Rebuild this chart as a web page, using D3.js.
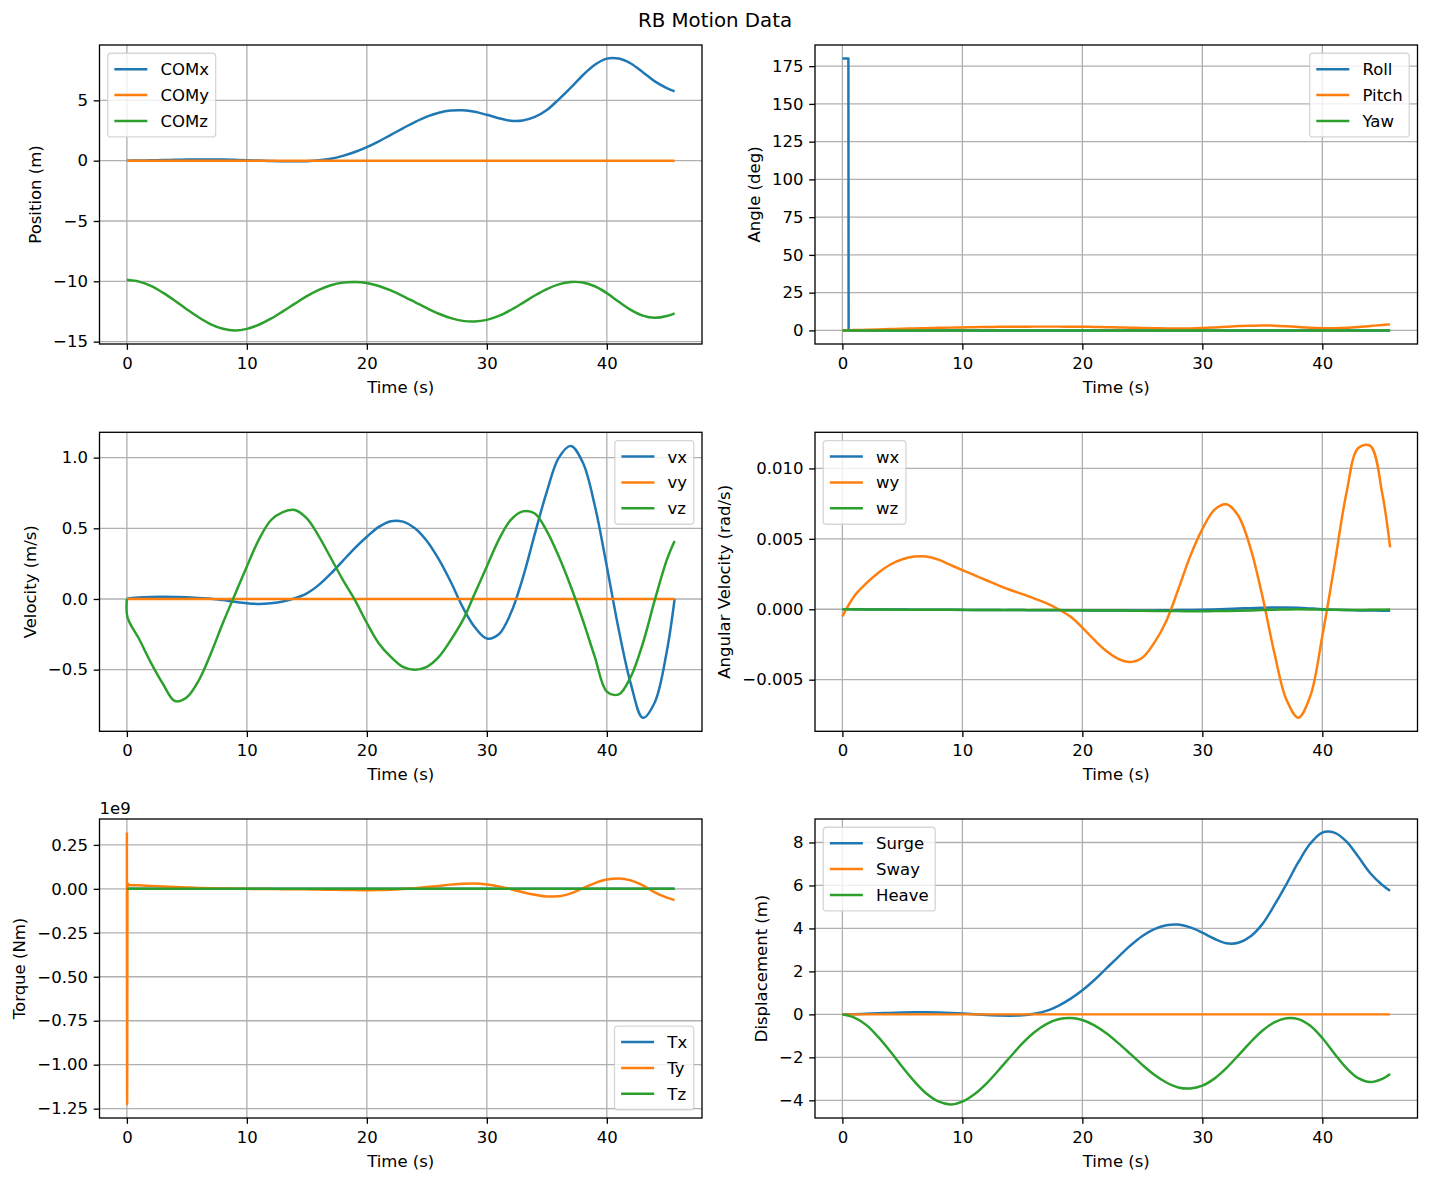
<!DOCTYPE html>
<html>
<head>
<meta charset="utf-8">
<title>RB Motion Data</title>
<script src="https://cdn.jsdelivr.net/npm/d3@7"></script>
<style>
  body { margin: 0; background: #fff; }
  text { font-family: "DejaVu Sans", sans-serif; fill: #000; }
</style>
</head>
<body>
<div id="chart"></div>
<script>
// ---- data ----
// main time samples, seconds
const time = [0,1,2,3,4,5,6,7,8,9,10,11,12,13,14,15,16,17,18,19,20,21,22,23,24,25,26,27,28,29,30,31,32,33,34,35,36,37,38,39,40,41,42,43,44,45,45.65];
// series that stay flat at zero
const flatTime = [0, 45.65];
// extra samples around the start-up spikes
const velTime = [0,0.05,1,2,3,4,5,6,7,8,9,10,11,12,13,14,15,16,17,18,19,20,21,22,23,24,25,26,27,28,29,30,31,32,33,34,35,36,37,38,39,40,41,42,43,44,45,45.65];
const torqueTime = [0,0.02,0.05,0.2,1,2,3,4,5,6,7,8,9,10,11,12,13,14,15,16,17,18,19,20,21,22,23,24,25,26,27,28,29,30,31,32,33,34,35,36,37,38,39,40,41,42,43,44,45,45.65];
const rollTime = [0, 0.5, 0.52, 45.65];

// Position (m)
const comX = [0.00,0.01,0.03,0.05,0.07,0.09,0.10,0.10,0.09,0.07,0.04,0.01,-0.03,-0.05,-0.06,-0.04,0.03,0.16,0.40,0.72,1.12,1.60,2.14,2.68,3.20,3.65,3.97,4.15,4.18,4.05,3.80,3.52,3.31,3.33,3.62,4.20,5.08,6.05,7.08,7.95,8.46,8.46,8.05,7.33,6.57,6.02,5.75];
const comY = [0, 0];
const comZ = [-9.88,-10.03,-10.38,-10.94,-11.61,-12.33,-13.00,-13.56,-13.93,-14.07,-13.94,-13.60,-13.10,-12.49,-11.85,-11.23,-10.71,-10.33,-10.11,-10.05,-10.14,-10.39,-10.76,-11.22,-11.72,-12.23,-12.69,-13.05,-13.28,-13.33,-13.20,-12.87,-12.38,-11.79,-11.18,-10.64,-10.25,-10.06,-10.10,-10.41,-10.98,-11.70,-12.37,-12.85,-13.03,-12.88,-12.65];

// Angle (deg)
const roll = [180, 180, 0, 0];
const pitch = [0,0.2,0.4,0.65,0.9,1.1,1.3,1.5,1.7,1.85,2.0,2.12,2.25,2.35,2.42,2.48,2.5,2.5,2.5,2.47,2.42,2.3,2.15,1.97,1.8,1.62,1.45,1.3,1.2,1.28,1.55,1.95,2.4,2.85,3.15,3.3,3.15,2.75,2.25,1.8,1.5,1.45,1.7,2.25,2.95,3.6,4.0];
const yaw = [0, 0];

// Velocity (m/s)
const vx = [0,0.001,0.01,0.014,0.015,0.014,0.012,0.007,0.002,-0.008,-0.02,-0.03,-0.035,-0.03,-0.018,0.005,0.04,0.1,0.18,0.27,0.36,0.44,0.51,0.55,0.547,0.50,0.41,0.28,0.12,-0.06,-0.2,-0.28,-0.25,-0.1,0.15,0.46,0.76,1.0,1.083,0.965,0.66,0.23,-0.22,-0.6,-0.84,-0.73,-0.37,0];
const vy = [0, 0];
const vz = [0,-0.13,-0.28,-0.45,-0.6,-0.722,-0.695,-0.575,-0.386,-0.17,0.03,0.23,0.42,0.557,0.615,0.63,0.57,0.443,0.29,0.135,-0.007,-0.17,-0.315,-0.41,-0.48,-0.5,-0.48,-0.41,-0.29,-0.15,0.04,0.23,0.42,0.56,0.62,0.605,0.48,0.3,0.088,-0.15,-0.41,-0.655,-0.675,-0.55,-0.315,-0.007,0.277,0.41];

// Angular velocity (rad/s)
const wx = [0,0,-0.00001,-0.00001,-0.00002,-0.00002,-0.00003,-0.00003,-0.00004,-0.00004,-0.00005,-0.00005,-0.00005,-0.00006,-0.00006,-0.00006,-0.00007,-0.00007,-0.00007,-0.00007,-0.00008,-0.00008,-0.00008,-0.00008,-0.00008,-0.00008,-0.00008,-0.00007,-0.00006,-0.00005,-0.00003,-0.00001,0.00002,0.00005,0.00008,0.00011,0.00013,0.00013,0.00011,0.00006,0.00001,-0.00003,-0.00006,-0.00008,-0.00009,-0.0001,-0.0001];
const wy = [-0.0005,0.00095,0.00185,0.0026,0.00318,0.00355,0.00374,0.00375,0.00352,0.00315,0.00278,0.00242,0.00206,0.0017,0.00137,0.00107,0.00076,0.00043,0.0,-0.00052,-0.0013,-0.00218,-0.00296,-0.00352,-0.00374,-0.00344,-0.00237,-0.00083,0.00142,0.00379,0.00569,0.00706,0.00745,0.00664,0.00438,0.00095,-0.00308,-0.0064,-0.0077,-0.00616,-0.0019,0.00308,0.0082,0.01145,0.0116,0.0082,0.0044];
const wz = [0,-0.00001,-0.00001,-0.00002,-0.00002,-0.00003,-0.00003,-0.00003,-0.00004,-0.00004,-0.00004,-0.00005,-0.00005,-0.00005,-0.00005,-0.00006,-0.00006,-0.00006,-0.00006,-0.00007,-0.00007,-0.00008,-0.00008,-0.00009,-0.0001,-0.00011,-0.00012,-0.00013,-0.00013,-0.00014,-0.00014,-0.00013,-0.00012,-0.0001,-0.00008,-0.00005,-0.00003,-0.00001,0,-0.00001,-0.00003,-0.00004,-0.00005,-0.00005,-0.00004,-0.00003,-0.00002];

// Torque, in units of 1e9 Nm
const torqueX = [0, 0];
const torqueY = [0.32,-1.226,0.03,0.022,0.02,0.017,0.014,0.011,0.008,0.005,0.003,0.002,0.001,0,-0.001,-0.001,-0.002,-0.002,-0.003,-0.004,-0.005,-0.006,-0.007,-0.008,-0.007,-0.005,-0.001,0.004,0.01,0.017,0.024,0.029,0.03,0.025,0.014,-0.002,-0.019,-0.033,-0.043,-0.042,-0.026,0.004,0.033,0.053,0.059,0.048,0.02,-0.02,-0.05,-0.064];
const torqueZ = [0, 0];

// Displacement (m)
const surge = [0.00,0.01,0.03,0.05,0.07,0.09,0.10,0.10,0.09,0.07,0.04,0.01,-0.03,-0.05,-0.06,-0.04,0.03,0.16,0.40,0.72,1.12,1.60,2.14,2.68,3.20,3.65,3.97,4.15,4.18,4.05,3.80,3.52,3.31,3.33,3.62,4.20,5.08,6.05,7.08,7.95,8.46,8.46,8.05,7.33,6.57,6.02,5.75];
const sway = [0, 0];
const heave = [0,-0.15,-0.50,-1.06,-1.73,-2.45,-3.12,-3.68,-4.05,-4.19,-4.06,-3.72,-3.22,-2.61,-1.97,-1.35,-0.83,-0.45,-0.23,-0.17,-0.26,-0.51,-0.88,-1.34,-1.84,-2.35,-2.81,-3.17,-3.40,-3.45,-3.32,-2.99,-2.50,-1.91,-1.30,-0.76,-0.37,-0.18,-0.22,-0.53,-1.10,-1.82,-2.49,-2.97,-3.15,-3.00,-2.77];

// tick values
const timeTicks = [0, 10, 20, 30, 40];
const positionTicks = [-15, -10, -5, 0, 5];
const angleTicks = [0, 25, 50, 75, 100, 125, 150, 175];
const velocityTicks = [-0.5, 0, 0.5, 1.0];
const angVelTicks = [-0.005, 0, 0.005, 0.010];
const torqueTicks = [-1.25, -1.0, -0.75, -0.5, -0.25, 0, 0.25];
const displacementTicks = [-4, -2, 0, 2, 4, 6, 8];

// ---- layout ----
const width = 1429, height = 1184;
const colLeft = [99.5, 815];
const rowTop = [45, 432.3, 819];
const axW = 602.5, axH = 299;
const fontSize = 16.5;
const lineW = 2.48, thinW = 1.32;
const colors = ["#1f77b4", "#ff7f0e", "#2ca02c"];

const panels = [
  { col: 0, row: 0, ylabel: "Position (m)", legend: "upper left", ticks: positionTicks, fmt: d3.format("d"),
    series: [{ name: "COMx", t: time, v: comX }, { name: "COMy", t: flatTime, v: comY }, { name: "COMz", t: time, v: comZ }] },
  { col: 1, row: 0, ylabel: "Angle (deg)", legend: "upper right", ticks: angleTicks, fmt: d3.format("d"),
    series: [{ name: "Roll", t: rollTime, v: roll, curve: d3.curveLinear }, { name: "Pitch", t: time, v: pitch }, { name: "Yaw", t: flatTime, v: yaw }] },
  { col: 0, row: 1, ylabel: "Velocity (m/s)", legend: "upper right", ticks: velocityTicks, fmt: d3.format(".1f"),
    series: [{ name: "vx", t: velTime, v: vx }, { name: "vy", t: flatTime, v: vy }, { name: "vz", t: velTime, v: vz }] },
  { col: 1, row: 1, ylabel: "Angular Velocity (rad/s)", legend: "upper left", ticks: angVelTicks, fmt: d3.format(".3f"),
    series: [{ name: "wx", t: time, v: wx }, { name: "wy", t: time, v: wy }, { name: "wz", t: time, v: wz }] },
  { col: 0, row: 2, ylabel: "Torque (Nm)", legend: "lower right", ticks: torqueTicks, fmt: d3.format(".2f"), offset: "1e9",
    series: [{ name: "Tx", t: flatTime, v: torqueX }, { name: "Ty", t: torqueTime, v: torqueY, curve: d3.curveMonotoneX }, { name: "Tz", t: flatTime, v: torqueZ }] },
  { col: 1, row: 2, ylabel: "Displacement (m)", legend: "upper left", ticks: displacementTicks, fmt: d3.format("d"),
    series: [{ name: "Surge", t: time, v: surge }, { name: "Sway", t: flatTime, v: sway }, { name: "Heave", t: time, v: heave }] }
];

const svg = d3.select("#chart")
  .append("svg")
  .attr("width", width)
  .attr("height", height)
  .attr("viewBox", [0, 0, width, height]);

svg.append("rect").attr("width", width).attr("height", height).attr("fill", "#fff");

svg.append("text")
  .attr("x", 715)
  .attr("y", 26.7)
  .attr("text-anchor", "middle")
  .attr("font-size", 19.8)
  .text("RB Motion Data");

// matplotlib-style 5% margins around the data
function padded(values) {
  const [lo, hi] = d3.extent(values);
  const pad = (hi - lo) * 0.05;
  return [lo - pad, hi + pad];
}

panels.forEach((p, i) => {
  const x0 = colLeft[p.col];
  const y0 = rowTop[p.row];

  const x = d3.scaleLinear()
    .domain(padded(p.series.flatMap(s => s.t)))
    .range([x0, x0 + axW]);
  const y = d3.scaleLinear()
    .domain(padded(p.series.flatMap(s => s.v)))
    .range([y0 + axH, y0]);

  const g = svg.append("g");

  // grid
  g.append("g").selectAll("line").data(timeTicks).join("line")
    .attr("x1", d => x(d)).attr("x2", d => x(d))
    .attr("y1", y0).attr("y2", y0 + axH)
    .attr("stroke", "#b0b0b0").attr("stroke-width", thinW);
  g.append("g").selectAll("line").data(p.ticks).join("line")
    .attr("x1", x0).attr("x2", x0 + axW)
    .attr("y1", d => y(d)).attr("y2", d => y(d))
    .attr("stroke", "#b0b0b0").attr("stroke-width", thinW);

  // lines
  const clipId = "clip" + i;
  svg.append("clipPath").attr("id", clipId)
    .append("rect").attr("x", x0).attr("y", y0).attr("width", axW).attr("height", axH);

  const lines = g.append("g").attr("clip-path", `url(#${clipId})`);
  p.series.forEach((s, j) => {
    const line = d3.line()
      .x(d => x(d[0]))
      .y(d => y(d[1]))
      .curve(s.curve || d3.curveCatmullRom.alpha(0.5));
    lines.append("path")
      .datum(d3.zip(s.t, s.v))
      .attr("fill", "none")
      .attr("stroke", colors[j])
      .attr("stroke-width", lineW)
      .attr("stroke-linejoin", "round")
      .attr("d", line);
  });

  // spines
  g.append("rect")
    .attr("x", x0).attr("y", y0).attr("width", axW).attr("height", axH)
    .attr("fill", "none").attr("stroke", "#000").attr("stroke-width", thinW);

  // x axis
  const xAxis = g.append("g")
    .attr("transform", `translate(0,${y0 + axH})`)
    .call(d3.axisBottom(x).tickValues(timeTicks).tickFormat(d3.format("d"))
      .tickSizeInner(5.8).tickSizeOuter(0).tickPadding(7.5));
  xAxis.select(".domain").remove();
  xAxis.attr("font-size", fontSize).attr("font-family", null);
  xAxis.selectAll("line").attr("stroke-width", thinW);

  // y axis
  const yAxis = g.append("g")
    .attr("transform", `translate(${x0},0)`)
    .call(d3.axisLeft(y).tickValues(p.ticks).tickFormat(p.fmt)
      .tickSizeInner(5.8).tickSizeOuter(0).tickPadding(5.8));
  yAxis.select(".domain").remove();
  yAxis.attr("font-size", fontSize).attr("font-family", null);
  yAxis.selectAll("line").attr("stroke-width", thinW);

  // axis labels
  g.append("text")
    .attr("x", x0 + axW / 2)
    .attr("y", y0 + axH + 48.5)
    .attr("text-anchor", "middle")
    .attr("font-size", fontSize)
    .text("Time (s)");

  const tickLeft = x0 + yAxis.node().getBBox().x;
  const lx = tickLeft - 12;
  const ly = y0 + axH / 2;
  g.append("text")
    .attr("x", lx).attr("y", ly)
    .attr("transform", `rotate(-90,${lx},${ly})`)
    .attr("text-anchor", "middle")
    .attr("font-size", fontSize)
    .text(p.ylabel);

  if (p.offset) {
    g.append("text")
      .attr("x", x0)
      .attr("y", y0 - 5)
      .attr("font-size", fontSize)
      .text(p.offset);
  }

  drawLegend(g, p, x0, y0);
});

function drawLegend(g, p, x0, y0) {
  const padX = 0.4 * fontSize, padY = 7.2;
  const handle = 2 * fontSize, gap = 0.8 * fontSize;
  const rowH = 17.6, spacing = 0.5 * fontSize, margin = 0.5 * fontSize;

  const lg = g.append("g");
  const probe = lg.append("text").attr("font-size", fontSize);
  const textW = d3.max(p.series, s => {
    probe.text(s.name);
    return probe.node().getComputedTextLength();
  });
  probe.remove();

  const w = 2 * padX + handle + gap + textW;
  const h = 2 * padY + p.series.length * rowH + (p.series.length - 1) * spacing;
  const left = p.legend.endsWith("left") ? x0 + margin : x0 + axW - margin - w;
  const top = p.legend.startsWith("upper") ? y0 + margin : y0 + axH - margin - h;

  lg.append("rect")
    .attr("x", left).attr("y", top).attr("width", w).attr("height", h)
    .attr("rx", 3.3)
    .attr("fill", "#fff").attr("fill-opacity", 0.8)
    .attr("stroke", "#cccccc").attr("stroke-opacity", 0.8).attr("stroke-width", 1.3);

  p.series.forEach((s, j) => {
    const cy = top + padY + rowH / 2 + j * (rowH + spacing);
    lg.append("line")
      .attr("x1", left + padX).attr("x2", left + padX + handle)
      .attr("y1", cy).attr("y2", cy)
      .attr("stroke", colors[j]).attr("stroke-width", lineW);
    lg.append("text")
      .attr("x", left + padX + handle + gap)
      .attr("y", cy + 6)
      .attr("font-size", fontSize)
      .text(s.name);
  });
}
</script>
</body>
</html>
